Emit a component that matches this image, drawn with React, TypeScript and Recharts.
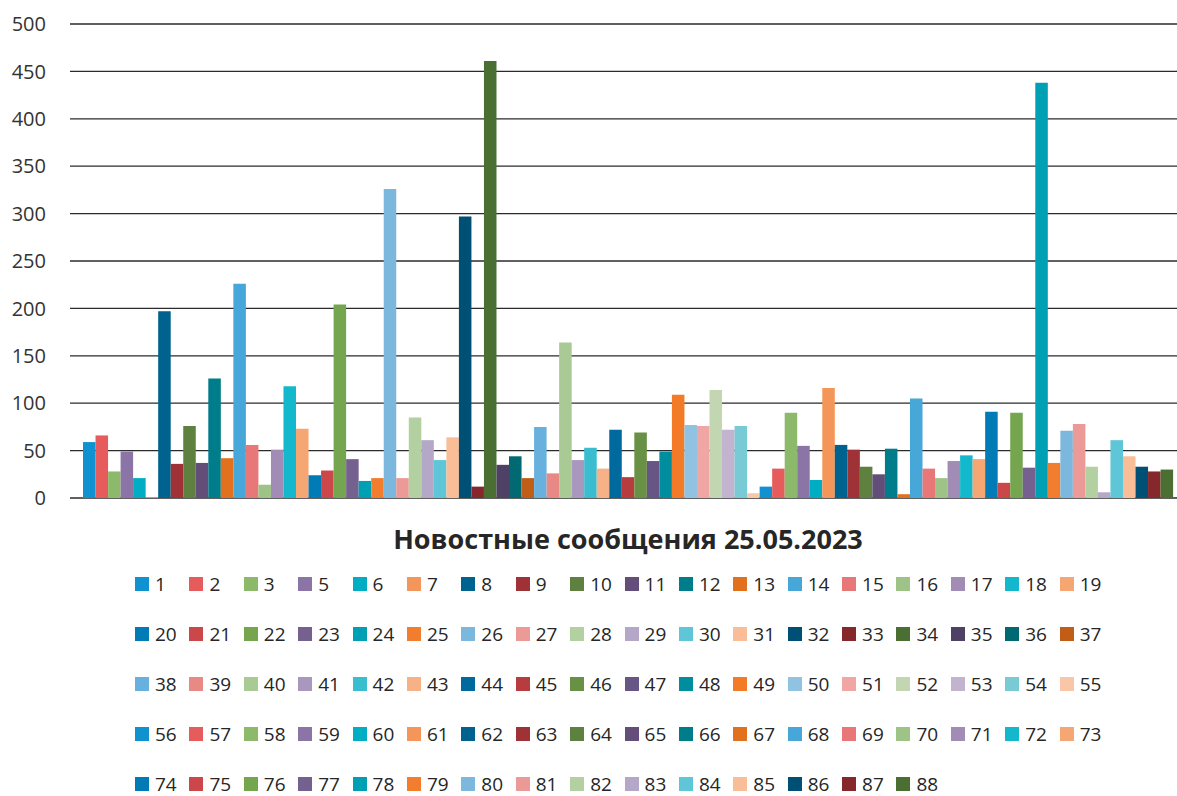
import { BarChart, Bar, YAxis, XAxis, CartesianGrid, Legend } from "recharts";

const seriesLabels = [
  "1", "2", "3", "5", "6", "7", "8", "9", "10", "11", "12", "13", "14", "15", "16", "17", "18", "19",
  "20", "21", "22", "23", "24", "25", "26", "27", "28", "29", "30", "31", "32", "33", "34", "35", "36", "37",
  "38", "39", "40", "41", "42", "43", "44", "45", "46", "47", "48", "49", "50", "51", "52", "53", "54", "55",
  "56", "57", "58", "59", "60", "61", "62", "63", "64", "65", "66", "67", "68", "69", "70", "71", "72", "73",
  "74", "75", "76", "77", "78", "79", "80", "81", "82", "83", "84", "85", "86", "87", "88",
];

const seriesValues = [
  59, 66, 28, 49, 21, 1, 197, 36, 76, 37, 126, 42, 226, 56, 14, 51, 118, 73,
  24, 29, 204, 41, 18, 21, 326, 21, 85, 61, 40, 64, 297, 12, 461, 35, 44, 21,
  75, 26, 164, 40, 53, 31, 72, 22, 69, 39, 49, 109, 77, 76, 114, 72, 76, 5,
  12, 31, 90, 55, 19, 116, 56, 51, 33, 25, 52, 4, 105, 31, 21, 39, 45, 41,
  91, 16, 90, 32, 438, 37, 71, 78, 33, 6, 61, 44, 33, 28, 30,
];

const yTicks = [0, 50, 100, 150, 200, 250, 300, 350, 400, 450, 500];

const palette = [
  "#0F92CF", "#E65B5B", "#8CBA6A", "#8B75A7", "#00ADC2", "#F49659",
  "#00628E", "#9E3236", "#5E813F", "#634E79", "#007D8A", "#E2711E",
  "#47A7D8", "#E77877", "#9EC386", "#A08CB5", "#14B8CC", "#F5A672",
  "#007BB5", "#CB4749", "#75A64F", "#75618F", "#00A0B4", "#F27D2E",
  "#7CB8DE", "#EC9A97", "#B3D0A1", "#B5A7C7", "#5EC6D6", "#F9BE97",
  "#005075", "#86272B", "#4B6E33", "#4F4066", "#006972", "#C05D16",
  "#68B1DE", "#E98986", "#A9CA95", "#A997BE", "#3BBDD0", "#F7B186",
  "#006A9E", "#B73C3E", "#699146", "#675685", "#008E9E", "#F37A26",
  "#90C2E2", "#EFA6A4", "#C1D6B1", "#C2B4CF", "#78CAD5", "#F9C7A7",
];

const title = "Новостные сообщения 25.05.2023";

const row: Record<string, number | string> = { name: "" };
seriesLabels.forEach((l, i) => {
  row["s" + l] = seriesValues[i];
});
const data = [row];

const font = "'Open Sans', 'Noto Sans', sans-serif";

// legend keeps the series order (recharts would sort it by name)
function LegendBlock() {
  return (
    <div style={{ position: "relative", width: 1177, height: 280, fontFamily: font, color: "#262626" }}>
      <div
        style={{
          position: "absolute",
          top: 0,
          left: 0,
          width: 1256,
          height: 50,
          lineHeight: "50px",
          textAlign: "center",
          fontWeight: 700,
          fontSize: 27,
        }}
      >
        {title}
      </div>
      <div style={{ position: "absolute", top: 45, left: 135, width: 980, display: "flex", flexWrap: "wrap" }}>
        {seriesLabels.map((l, i) => (
          <div key={l} style={{ width: 54.4, height: 50, display: "flex", alignItems: "center" }}>
            <span style={{ width: 14, height: 14, background: palette[i % palette.length], marginRight: 6, flexShrink: 0 }} />
            <span style={{ fontSize: 19, lineHeight: "18px" }}>{l}</span>
          </div>
        ))}
      </div>
    </div>
  );
}

export default function App() {
  return (
    <div style={{ position: "absolute", left: 0, top: 0, width: 1177, height: 796, background: "#fff", overflow: "hidden" }}>
      <BarChart
        width={1177}
        height={796}
        data={data}
        margin={{ top: 24, right: -9, left: 0, bottom: 298 }}
        barSize={12.53}
        barGap={0}
      >
        <CartesianGrid vertical={false} stroke="#2b2b2b" strokeWidth={1.3} />
        <XAxis dataKey="name" hide />
        <YAxis
          width={70}
          domain={[0, 500]}
          ticks={yTicks}
          axisLine={false}
          tickLine={false}
          tickMargin={18}
          tick={{ fontSize: 20, fill: "#333", fontFamily: font }}
          interval={0}
        />
        <Legend
          layout="horizontal"
          verticalAlign="middle"
          align="center"
          content={<LegendBlock />}
          wrapperStyle={{ position: "absolute", left: 0, top: 514, width: 1177 }}
        />
        {seriesLabels.map((l, i) => (
          <Bar key={l} dataKey={"s" + l} name={l} fill={palette[i % palette.length]} isAnimationActive={false} />
        ))}
      </BarChart>
    </div>
  );
}
